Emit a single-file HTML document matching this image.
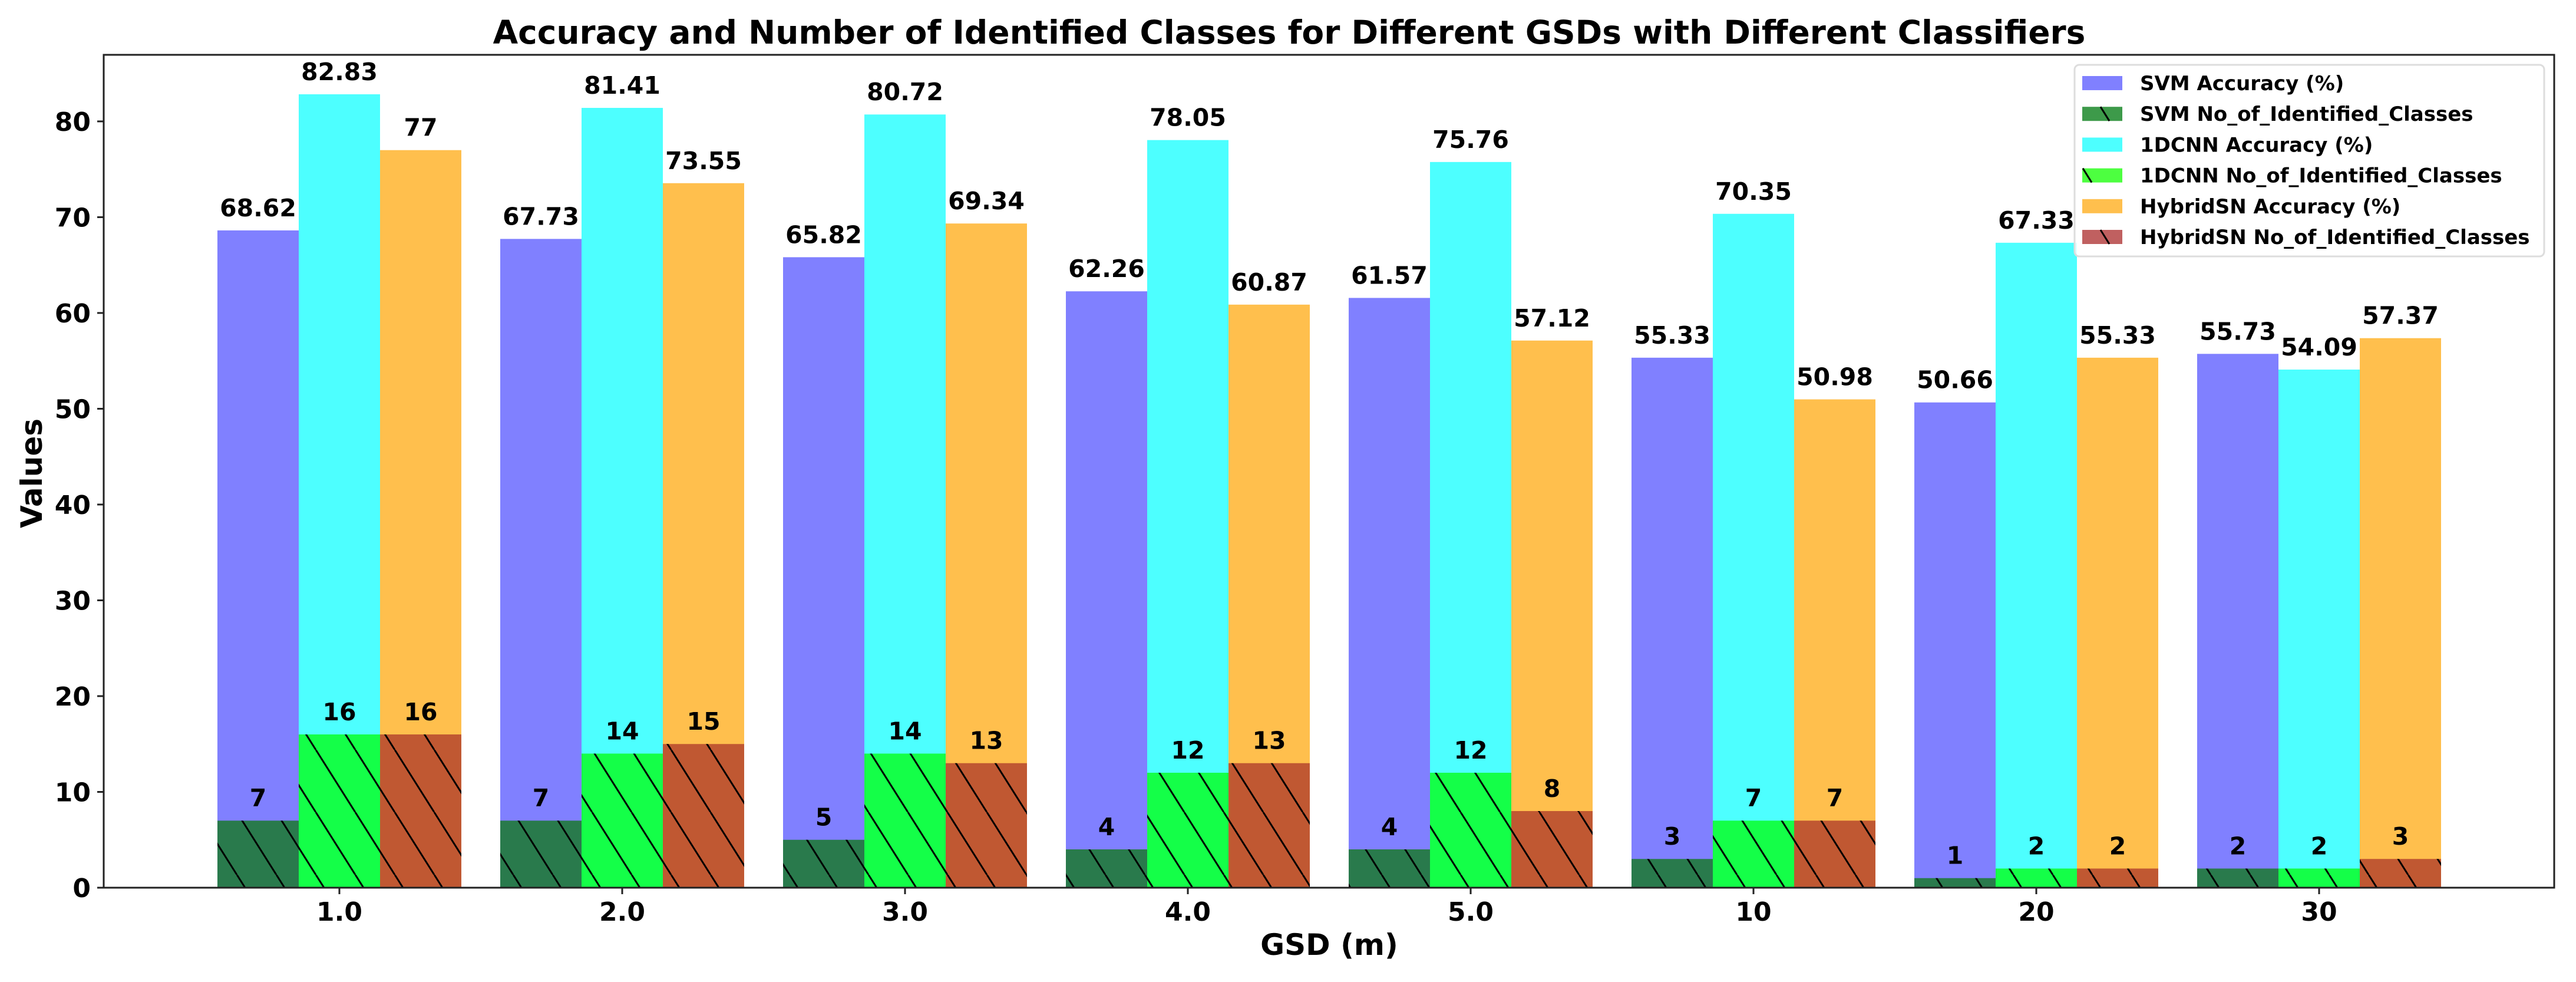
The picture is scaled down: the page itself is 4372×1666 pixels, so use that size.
<!DOCTYPE html>
<html><head><meta charset="utf-8">
<style>
html,body{margin:0;padding:0;background:#fff;}
svg{display:block;font-family:"DejaVu Sans","Liberation Sans",sans-serif;font-weight:bold;}
</style></head>
<body>
<svg id="chart" xmlns="http://www.w3.org/2000/svg" width="4372" height="1666" viewBox="0 0 4372 1666">
<defs>
<pattern id="hatch" patternUnits="userSpaceOnUse" width="67" height="106" patternTransform="translate(0,0)">
<line x1="0" y1="0" x2="67" y2="106" stroke="#000" stroke-width="3"/>
<line x1="-67" y1="0" x2="0" y2="106" stroke="#000" stroke-width="3"/>
<line x1="67" y1="0" x2="134" y2="106" stroke="#000" stroke-width="3"/>
</pattern>
</defs>
<rect x="0" y="0" width="4372" height="1666" fill="#fff"/>
<text x="2188" y="74" font-size="55" text-anchor="middle">Accuracy and Number of Identified Classes for Different GSDs with Different Classifiers</text>
<g id="plot"></g>
<text x="2256" y="1620" font-size="50" text-anchor="middle">GSD (m)</text>
<text transform="translate(71,803) rotate(-90)" font-size="50" text-anchor="middle">Values</text>
</svg>
<script>
const categories = ["1.0","2.0","3.0","4.0","5.0","10","20","30"];
const svmAcc = [68.62,67.73,65.82,62.26,61.57,55.33,50.66,55.73];
const svmCls = [7,7,5,4,4,3,1,2];
const cnnAcc = [82.83,81.41,80.72,78.05,75.76,70.35,67.33,54.09];
const cnnCls = [16,14,14,12,12,7,2,2];
const hybAcc = [77,73.55,69.34,60.87,57.12,50.98,55.33,57.37];
const hybCls = [16,15,13,13,8,7,2,3];
const yTicks = [0,10,20,30,40,50,60,70,80];
const legendLabels = ["SVM Accuracy (%)","SVM No_of_Identified_Classes","1DCNN Accuracy (%)","1DCNN No_of_Identified_Classes","HybridSN Accuracy (%)","HybridSN No_of_Identified_Classes"];

const NS="http://www.w3.org/2000/svg";
const plot=document.getElementById('plot');
const L=176,R=4335,T=93,B=1506,YMAX=86.95;
const c0=576,step=480,bw=138;
function y(v){return B-(v/YMAX)*(B-T);}
function xc(i){return c0+i*step;}
function mk(tag,attrs,parent){const e=document.createElementNS(NS,tag);for(const k in attrs)e.setAttribute(k,attrs[k]);(parent||plot).appendChild(e);return e;}

const series=[
 {acc:svmAcc,cls:svmCls,off:-1,accCol:"#8080ff",clsCol:"#297a4c",name:"svm"},
 {acc:cnnAcc,cls:cnnCls,off:0,accCol:"#4dffff",clsCol:"#14ff48",name:"1dcnn"},
 {acc:hybAcc,cls:hybCls,off:1,accCol:"#ffbf4d",clsCol:"#c05832",name:"hybridsn"}
];
series.forEach(s=>{
 categories.forEach((c,i)=>{
  const x=xc(i)+s.off*bw-bw/2;
  const a=mk('rect',{x:x,y:y(s.acc[i]),width:bw,height:B-y(s.acc[i]),fill:s.accCol});
  
  
  const b=mk('rect',{x:x,y:y(s.cls[i]),width:bw,height:B-y(s.cls[i]),fill:s.clsCol});
  
  
  const h=mk('rect',{x:x,y:y(s.cls[i]),width:bw,height:B-y(s.cls[i]),fill:"url(#hatch)"});
  
  
  const t1=mk('text',{x:x+bw/2,y:y(s.acc[i])-24,'font-size':41,'text-anchor':'middle'});
  t1.textContent=String(s.acc[i]);
  
  
  const t2=mk('text',{x:x+bw/2,y:y(s.cls[i])-24,'font-size':41,'text-anchor':'middle'});
  t2.textContent=String(s.cls[i]);
  
  
 });
});
const fr=mk('rect',{x:L,y:T,width:R-L,height:B-T,fill:'none',stroke:'#222','stroke-width':3});


yTicks.forEach(v=>{
 const tk=mk('line',{x1:L-11,x2:L,y1:y(v),y2:y(v),stroke:'#222','stroke-width':3});
 
 
 const tl=mk('text',{x:L-22,y:y(v)+16,'font-size':44,'text-anchor':'end'});
 tl.textContent=String(v);
 
 
});
categories.forEach((c,i)=>{
 const tk=mk('line',{x1:xc(i),x2:xc(i),y1:B,y2:B+11,stroke:'#222','stroke-width':3});
 
 
 const tl=mk('text',{x:xc(i),y:1562,'font-size':44,'text-anchor':'middle'});
 tl.textContent=c;
 
 
});
const lg=mk('g',{});


const lb=mk('rect',{x:3521,y:110,width:797,height:325,rx:8,fill:'#fff','fill-opacity':0.85,stroke:'#ddd','stroke-width':3},lg);


const legCols=["#8080ff","#3d9a4a","#4dffff","#4dff40","#ffbf4d","#c06060"];
legendLabels.forEach((lab,k)=>{
 const cy=141+k*52.2;
 const p=mk('rect',{x:3534,y:cy-12,width:68,height:24,fill:legCols[k]},lg);
 
 
 if(k%2===1){
  const hl=mk('line',{x1:k===3?3535:3565,y1:cy-12,x2:k===3?3550:3580,y2:cy+12,stroke:'#000','stroke-width':3},lg);
  
  
 }
 const t=mk('text',{x:3632,y:cy+12,'font-size':34},lg);
 t.textContent=lab;
 
 
});
</script>
</body></html>
